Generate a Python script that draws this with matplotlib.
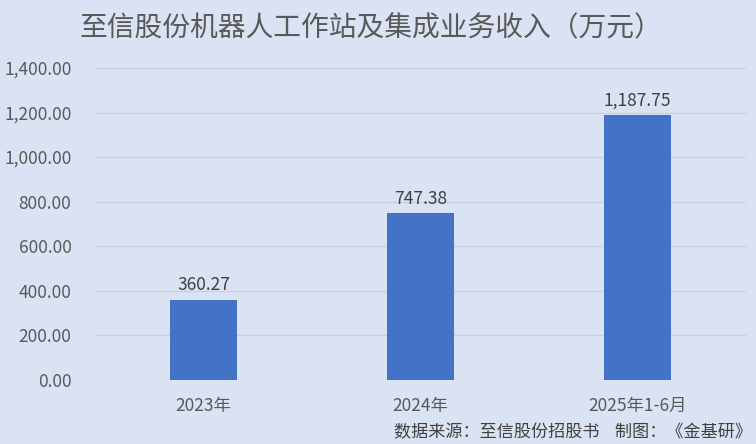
import matplotlib
matplotlib.use("Agg")
import matplotlib.pyplot as plt
from matplotlib.ticker import FuncFormatter

plt.rcParams['font.family'] = ['Noto Sans CJK SC', 'DejaVu Sans']

categories = ["2023年", "2024年", "2025年1-6月"]
revenue = [360.27, 747.38, 1187.75]
y_ticks = [0, 200, 400, 600, 800, 1000, 1200, 1400]

bg = "#dae3f3"
fig = plt.figure(figsize=(7.56, 4.44), dpi=100)
fig.patch.set_facecolor(bg)
ax = fig.add_axes([0.1257, 0.144, 0.861, 0.703])
ax.set_facecolor(bg)

x = range(len(categories))
bars = ax.bar(x, revenue, width=0.31, color="#4472c4", zorder=3)
for xi, v in zip(x, revenue):
    ax.text(xi, v + 25, f"{v:,.2f}", ha="center", va="bottom", fontsize=12.5, color="#404040")

ax.set_xlim(-0.5, 2.5)
ax.set_ylim(0, 1400)
ax.set_yticks(y_ticks)
ax.yaxis.set_major_formatter(FuncFormatter(lambda v, p: f"{v:,.2f}"))
ax.set_xticks(list(x))
ax.set_xticklabels(categories)
ax.tick_params(axis="both", length=0, labelsize=12.5, colors="#595959")
ax.tick_params(axis="y", pad=17)
ax.tick_params(axis="x", pad=12)
ax.grid(axis="y", color="#c8cfdc", linewidth=0.8, zorder=0)
for s in ax.spines.values():
    s.set_visible(False)

fig.text(0.49, 0.937, "至信股份机器人工作站及集成业务收入（万元）", ha="center", va="center",
         fontsize=20, color="#595959")
fig.text(0.995, 0.027, "数据来源：至信股份招股书    制图：《金基研》", ha="right", va="center",
         fontsize=12.3, color="#404040")

fig.savefig("out.png", dpi=100, facecolor=bg)
